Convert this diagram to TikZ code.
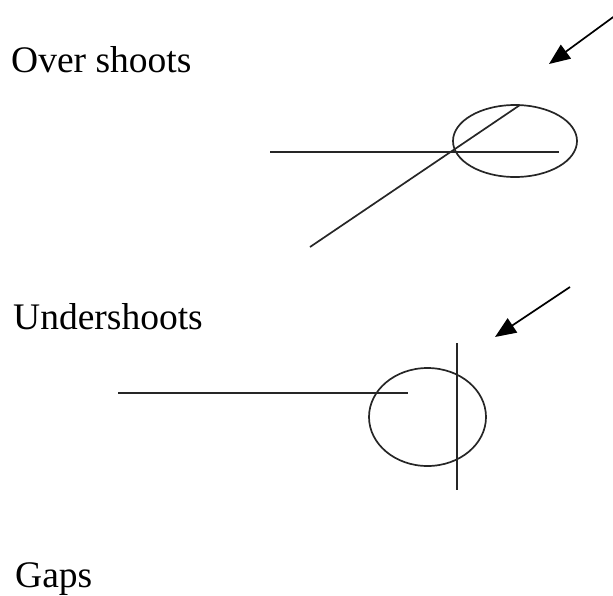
\documentclass[tikz,border=0pt]{standalone}
\usepackage{fontspec}
\setmainfont{Liberation Serif}
\usetikzlibrary{arrows.meta}
\begin{document}
\begin{tikzpicture}[x=1pt,y=-1pt,
  ln/.style={line width=1.7pt,black!85},
  lbl/.style={anchor=base west,inner sep=0pt,font=\fontsize{37.5}{44}\selectfont},
  pointer/.style={line width=1.7pt,-{Triangle[length=21pt,width=17pt]}}]
\useasboundingbox (0,0) rectangle (613,595);
% labels
\node[lbl] (over) at (11,72) {Over shoots};
\node[lbl] (under) at (13,329) {Undershoots};
\node[lbl] (gaps) at (15,587) {Gaps};
% over shoots
\coordinate (a1s) at (616,15);
\coordinate (a1t) at (549,64);
\draw[pointer] (a1s) -- (a1t);
\draw[ln] (515,141) ellipse [x radius=62, y radius=36];
\coordinate (h1a) at (270,152);
\coordinate (h1b) at (559,152);
\draw[ln] (h1a) -- (h1b);
\coordinate (d1a) at (310,247);
\coordinate (d1b) at (520,105);
\draw[ln] (d1a) -- (d1b);
% undershoots
\coordinate (a2s) at (570,287);
\coordinate (a2t) at (495,337);
\draw[pointer] (a2s) -- (a2t);
\draw[ln] (427.5,417) ellipse [x radius=58.5, y radius=49];
\coordinate (h2a) at (118,393);
\coordinate (h2b) at (408,393);
\draw[ln] (h2a) -- (h2b);
\coordinate (v2a) at (457,343);
\coordinate (v2b) at (457,490);
\draw[ln] (v2a) -- (v2b);
\end{tikzpicture}
\end{document}
